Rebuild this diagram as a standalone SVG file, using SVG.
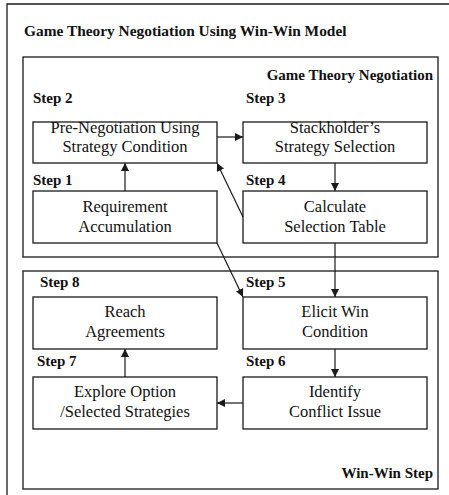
<svg xmlns="http://www.w3.org/2000/svg" width="449" height="495" viewBox="0 0 449 495">
<defs>
<marker id="ah" viewBox="0 0 10 10" refX="10" refY="5" markerWidth="8" markerHeight="8" markerUnits="userSpaceOnUse" orient="auto">
<path d="M0,0 L10,5 L0,10 z" fill="#1a1a1a"/>
</marker>
</defs>
<style>
.frame{fill:none;stroke:#1a1a1a;stroke-width:1.3}
.box{fill:#fff;stroke:#1a1a1a;stroke-width:1.3}
text{font-family:'Liberation Serif','DejaVu Serif',Tinos,'Times New Roman',serif;fill:#111}
.lbl{font-weight:bold;font-size:15px}
.title{font-weight:bold;font-size:15.4px}
.txt{font-size:16.5px;text-anchor:middle}
.con{fill:none;stroke:#1a1a1a;stroke-width:1.2;marker-end:url(#ah)}
</style>
<rect width="449" height="495" fill="#fff"/>
<g id="outer">
<path class="frame" d="M452,4 L7,4 L7,500"/>
<text class="title" x="24" y="36">Game Theory Negotiation Using Win-Win Model</text>
</g>
<g id="gtn-group">
<rect class="frame" x="23" y="57" width="415" height="200"/>
<text class="lbl" x="433" y="80" text-anchor="end">Game Theory Negotiation</text>
</g>
<g id="ww-group">
<rect class="frame" x="23" y="271" width="415" height="218"/>
<text class="lbl" x="433" y="478" text-anchor="end">Win-Win Step</text>
</g>
<g id="step2">
<text class="lbl" x="33" y="103">Step 2</text>
<rect class="box" x="33" y="122" width="184" height="41"/>
<text class="txt" x="125" y="133">Pre-Negotiation Using</text>
<text class="txt" x="125" y="152">Strategy Condition</text>
</g>
<g id="step3">
<text class="lbl" x="246" y="103">Step 3</text>
<rect class="box" x="243" y="122" width="184" height="41"/>
<text class="txt" x="335" y="133">Stackholder’s</text>
<text class="txt" x="335" y="152">Strategy Selection</text>
</g>
<g id="step1">
<text class="lbl" x="33" y="185">Step 1</text>
<rect class="box" x="33" y="191" width="184" height="52"/>
<text class="txt" x="125" y="212">Requirement</text>
<text class="txt" x="125" y="232">Accumulation</text>
</g>
<g id="step4">
<text class="lbl" x="246" y="185">Step 4</text>
<rect class="box" x="243" y="191" width="184" height="52"/>
<text class="txt" x="335" y="212">Calculate</text>
<text class="txt" x="335" y="232">Selection Table</text>
</g>
<g id="step8">
<text class="lbl" x="40" y="287">Step 8</text>
<rect class="box" x="33" y="297" width="184" height="52"/>
<text class="txt" x="125" y="317">Reach</text>
<text class="txt" x="125" y="337">Agreements</text>
</g>
<g id="step5">
<text class="lbl" x="246" y="287">Step 5</text>
<rect class="box" x="243" y="297" width="184" height="52"/>
<text class="txt" x="335" y="317">Elicit Win</text>
<text class="txt" x="335" y="337">Condition</text>
</g>
<g id="step7">
<text class="lbl" x="37" y="366">Step 7</text>
<rect class="box" x="33" y="377" width="184" height="52"/>
<text class="txt" x="125" y="397">Explore Option</text>
<text class="txt" x="125" y="417">/Selected Strategies</text>
</g>
<g id="step6">
<text class="lbl" x="246" y="366">Step 6</text>
<rect class="box" x="243" y="377" width="184" height="52"/>
<text class="txt" x="335" y="397">Identify</text>
<text class="txt" x="335" y="417">Conflict Issue</text>
</g>
<g id="connectors">
<line class="con" x1="217" y1="137" x2="243" y2="137"/>
<line class="con" x1="125" y1="191" x2="125" y2="163"/>
<line class="con" x1="335" y1="163" x2="335" y2="191"/>
<line class="con" x1="243" y1="217" x2="217" y2="163"/>
<line class="con" x1="217" y1="243" x2="243" y2="297"/>
<line class="con" x1="335" y1="243" x2="335" y2="297"/>
<line class="con" x1="335" y1="349" x2="335" y2="377"/>
<line class="con" x1="243" y1="403" x2="217" y2="403"/>
<line class="con" x1="125" y1="377" x2="125" y2="349"/>
</g>
</svg>
